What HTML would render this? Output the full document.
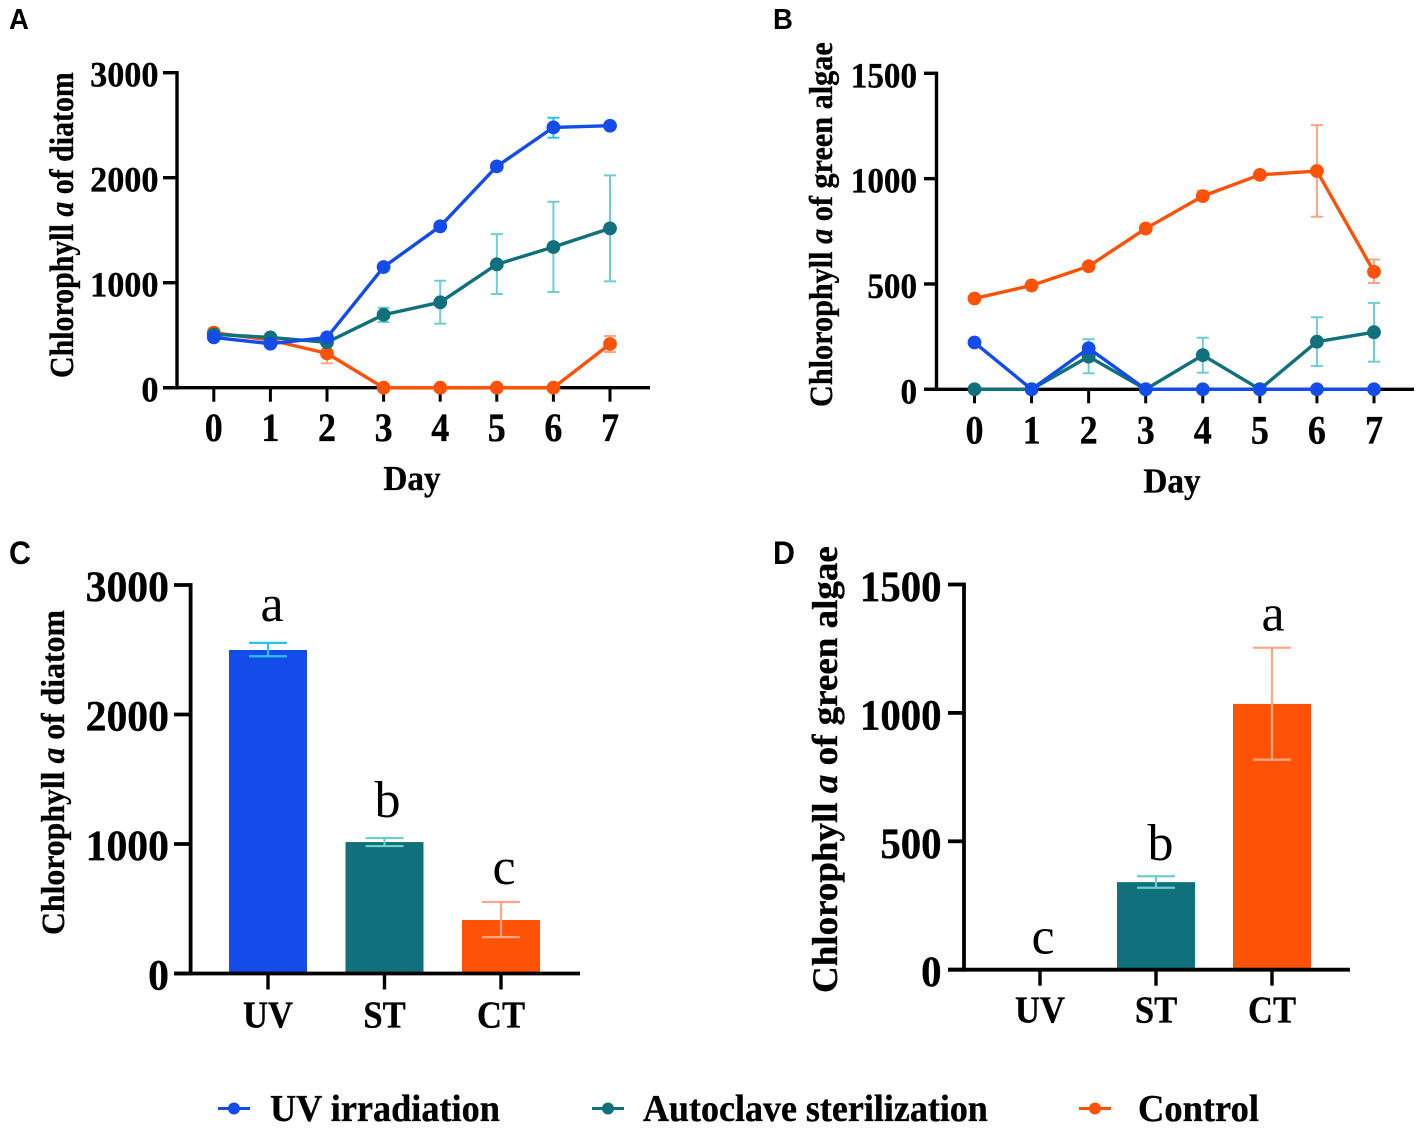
<!DOCTYPE html>
<html lang="en">
<head>
<meta charset="utf-8">
<title>Chlorophyll a of diatom and green algae</title>
<style>
html,body{margin:0;padding:0;background:#fff;}
svg{display:block;}
text{font-family:"Liberation Serif",serif;font-weight:bold;fill:#000;stroke:#000;stroke-width:.35px;}
</style>
</head>
<body>
<svg id="fig" xmlns="http://www.w3.org/2000/svg" width="1418" height="1128" viewBox="0 0 1418 1128"></svg>
<script>
// ---------- shared categories ----------
const days = [0, 1, 2, 3, 4, 5, 6, 7];
const barCategories = ['UV', 'ST', 'CT'];
const ticksDiatom = [0, 1000, 2000, 3000];
const ticksGreen = [0, 500, 1000, 1500];

// ---------- Panel A values ----------
const aUV = [479, 419, 479, 1149, 1537, 2108, 2479, 2495];
const aUVHigh = [479, 419, 479, 1149, 1537, 2108, 2571, 2495];
const aUVLow = [479, 419, 479, 1149, 1537, 2108, 2381, 2495];
const aST = [508, 479, 432, 695, 813, 1175, 1340, 1517];
const aSTHigh = [508, 479, 432, 762, 1019, 1463, 1771, 2022];
const aSTLow = [508, 479, 432, 625, 610, 892, 911, 1013];
const aCT = [524, 454, 327, 0, 0, 0, 0, 416];
const aCTHigh = [565, 454, 420, 0, 0, 0, 0, 492];
const aCTLow = [524, 454, 232, 0, 0, 0, 0, 340];

// ---------- Panel B values ----------
const bUV = [222, 0, 195, 0, 0, 0, 0, 0];
const bST = [0, 0, 155, 0, 162, 0, 226, 271];
const bSTHigh = [0, 0, 238, 0, 245, 0, 342, 410];
const bSTLow = [0, 0, 76, 0, 79, 0, 111, 131];
const bCT = [431, 493, 584, 763, 917, 1018, 1036, 558];
const bCTHigh = [431, 493, 584, 763, 942, 1018, 1254, 616];
const bCTLow = [431, 493, 584, 763, 917, 1018, 819, 505];

// ---------- Panel C values ----------
const cValues = [2498, 1015, 413];
const cHigh = [2553, 1046, 552];
const cLow = [2450, 984, 281];
const cLetters = ['a', 'b', 'c'];

// ---------- Panel D values ----------
const dValues = [0, 341, 1035];
const dHigh = [0, 364, 1254];
const dLow = [0, 319, 818];
const dLetters = ['c', 'b', 'a'];

// ---------- Legend ----------
const legendLabels = ['UV irradiation', 'Autoclave sterilization', 'Control'];

const BLUE = '#134ce8', TEAL = '#10707c', ORANGE = '#fe5307';
const EBLUE = '#2bc4f0', ETEAL = '#6dcdd0', EORANGE = '#fda586';
const svg = document.getElementById('fig');
const NS = 'http://www.w3.org/2000/svg';

function shape(parent, tag, props) {
  const el = document.createElementNS(NS, tag);
  for (const k in props) el.setAttribute(k, props[k]);
  parent.appendChild(el);
  return el;
}
function group(parent, name) {
  const g = shape(parent, 'g', {});
  
  
  return g;
}
function label(parent, name, str, x, y, size, anchor, scaleX) {
  const t = shape(parent, 'text', {x: 0, y: 0, 'font-size': size, 'text-anchor': anchor});
  t.setAttribute('transform', 'translate(' + x + ' ' + y + ') scale(' + (scaleX || 1) + ' 1)');
  t.textContent = str;
  
  
  return t;
}
function yAxisTitle(parent, name, rest, baseX, yBottom, yTop, size) {
  const t = shape(parent, 'text', {x: 0, y: 0, 'font-size': size});
  
  
  const a = document.createElementNS(NS, 'tspan');
  a.textContent = 'Chlorophyll ';
  t.appendChild(a);
  const b = document.createElementNS(NS, 'tspan');
  b.setAttribute('font-style', 'italic');
  b.textContent = 'a';
  t.appendChild(b);
  const c = document.createElementNS(NS, 'tspan');
  c.textContent = ' ' + rest;
  t.appendChild(c);
  const sx = (yBottom - yTop) / t.getComputedTextLength();
  t.setAttribute('transform', 'translate(' + baseX + ' ' + yBottom + ') rotate(-90) scale(' + sx + ' 1)');
}
function fitWidth(t, x, y, width) {
  const sx = width / t.getComputedTextLength();
  t.setAttribute('transform', 'translate(' + x + ' ' + y + ') scale(' + sx + ' 1)');
}

function drawAxes(g, o, yTicks, sy) {
  const w = o.axisW;
  shape(g, 'line', {x1: o.x0, y1: sy(o.yMax) - w / 2, x2: o.x0, y2: sy(0) + w / 2, stroke: '#000', 'stroke-width': w});
  shape(g, 'line', {x1: o.tickLeft, y1: sy(0), x2: o.xEnd, y2: sy(0), stroke: '#000', 'stroke-width': w});
  yTicks.forEach(function (v) {
    const tick = shape(g, 'line', {x1: o.tickLeft, y1: sy(v), x2: o.x0, y2: sy(v), stroke: '#000', 'stroke-width': w});
    
    label(g, 'y-tick-label', String(v), o.yLabelRight, sy(v) + o.yLabelDy, o.yLabelSize, 'end', o.yLabelScale);
  });
}

function errorBar(g, name, x, hi, lo, sy, color, cap, w) {
  if (hi === lo) return;
  const e = group(g, name);
  shape(e, 'line', {x1: x, y1: sy(hi), x2: x, y2: sy(lo), stroke: color, 'stroke-width': w});
  shape(e, 'line', {x1: x - cap, y1: sy(hi), x2: x + cap, y2: sy(hi), stroke: color, 'stroke-width': w});
  shape(e, 'line', {x1: x - cap, y1: sy(lo), x2: x + cap, y2: sy(lo), stroke: color, 'stroke-width': w});
}

function linePanel(o) {
  const g = group(svg, o.name);
  const sx = function (d) { return o.xFirst + (o.xLast - o.xFirst) * d / 7; };
  const sy = function (v) { return o.y0 + (o.yTop - o.y0) * v / o.yMax; };
  drawAxes(g, o, o.yTicks, sy);
  days.forEach(function (d) {
    const tick = shape(g, 'line', {x1: sx(d), y1: sy(0), x2: sx(d), y2: sy(0) + 14, stroke: '#000', 'stroke-width': 3});
    
    label(g, 'x-tick-label', String(d), sx(d), o.xLabelY, 40, 'middle', 0.9);
  });
  label(g, 'x-axis-title', 'Day', o.dayX, o.dayY, 35, 'middle', 0.95);
  o.series.forEach(function (s) {
    days.forEach(function (d, i) {
      errorBar(g, s.name + '-error-bar', sx(d), s.high[i], s.low[i], sy, s.err, 6, 2);
    });
  });
  o.series.forEach(function (s) {
    const sg = group(g, s.name);
    const pts = days.map(function (d, i) { return sx(d) + ',' + sy(s.vals[i]); }).join(' ');
    shape(sg, 'polyline', {points: pts, fill: 'none', stroke: s.color, 'stroke-width': 3.4, 'stroke-linejoin': 'round'});
    days.forEach(function (d, i) {
      const p = shape(sg, 'circle', {cx: sx(d), cy: sy(s.vals[i]), r: 6.9, fill: s.color});
      
      
    });
  });
}

function barPanel(o) {
  const g = group(svg, o.name);
  const sx = function (i) { return o.xFirst + o.step * i; };
  const sy = function (v) { return o.y0 + (o.yTop - o.y0) * v / o.yMax; };
  const colors = [BLUE, TEAL, ORANGE];
  const errs = [EBLUE, ETEAL, EORANGE];
  barCategories.forEach(function (c, i) {
    if (o.vals[i] > 0) {
      const b = shape(g, 'rect', {x: sx(i) - 39, y: sy(o.vals[i]), width: 78, height: sy(0) - sy(o.vals[i]), fill: colors[i]});
      
      
    }
    errorBar(g, 'error-bar-' + c.toLowerCase(), sx(i), o.high[i], o.low[i], sy, errs[i], 19, 2.2);
  });
  drawAxes(g, o, o.yTicks, sy);
  barCategories.forEach(function (c, i) {
    const tick = shape(g, 'line', {x1: sx(i), y1: sy(0), x2: sx(i), y2: sy(0) + 16, stroke: '#000', 'stroke-width': 3.4});
    
    label(g, 'x-tick-label', c, sx(i), o.xLabelY, 38, 'middle', 0.91);
    const top = Math.max(o.high[i], o.vals[i]);
    const t = label(g, 'significance-letter-' + o.letters[i], o.letters[i], sx(i) + o.letterDx[i], sy(top) + o.letterDy[i], 52, 'middle');
    t.setAttribute('style', 'font-weight:normal;stroke:none');
  });
}

// Panel letters
[['A', 9, 29, 29], ['B', 773, 29, 29], ['C', 9, 564, 32], ['D', 773, 564, 32]].forEach(function (p) {
  const t = label(svg, 'panel-label-' + p[0].toLowerCase(), p[0], p[1], p[2], p[3], 'start', 0.95);
  t.setAttribute('style', 'font-family:"Liberation Sans",sans-serif;stroke:none');
});

linePanel({
  name: 'panel-a-line-chart', x0: 177, tickLeft: 163, xEnd: 650, y0: 387.7, yTop: 72.7, yMax: 3000,
  xFirst: 213.8, xLast: 610, yTicks: ticksDiatom, yLabelRight: 158.5, yLabelDy: 14, yLabelSize: 36, yLabelScale: 0.95, axisW: 3.4,
  xLabelY: 441, dayX: 412, dayY: 490,
  series: [
    {name: 'series-control', vals: aCT, high: aCTHigh, low: aCTLow, color: ORANGE, err: EORANGE},
    {name: 'series-autoclave', vals: aST, high: aSTHigh, low: aSTLow, color: TEAL, err: ETEAL},
    {name: 'series-uv', vals: aUV, high: aUVHigh, low: aUVLow, color: BLUE, err: EBLUE}
  ]
});
yAxisTitle(svg, 'y-axis-title-a', 'of diatom', 73, 378, 72, 34);

linePanel({
  name: 'panel-b-line-chart', x0: 936.5, tickLeft: 924, xEnd: 1414, y0: 389.3, yTop: 73.3, yMax: 1500,
  xFirst: 974.5, xLast: 1374, yTicks: ticksGreen, yLabelRight: 917, yLabelDy: 14, yLabelSize: 36, yLabelScale: 0.92, axisW: 3.4,
  xLabelY: 443.5, dayX: 1172, dayY: 492.7,
  series: [
    {name: 'series-control', vals: bCT, high: bCTHigh, low: bCTLow, color: ORANGE, err: EORANGE},
    {name: 'series-autoclave', vals: bST, high: bSTHigh, low: bSTLow, color: TEAL, err: ETEAL},
    {name: 'series-uv', vals: bUV, high: bUV, low: bUV, color: BLUE, err: EBLUE}
  ]
});
yAxisTitle(svg, 'y-axis-title-b', 'of green algae', 832, 407, 42, 33);

barPanel({
  name: 'panel-c-bar-chart', x0: 190.6, tickLeft: 174, xEnd: 580, y0: 973.5, yTop: 585, yMax: 3000,
  xFirst: 268, step: 116.5, yTicks: ticksDiatom, yLabelRight: 169, yLabelDy: 16, yLabelSize: 43, yLabelScale: 0.97, axisW: 3.8,
  xLabelY: 1027.7, vals: cValues, high: cHigh, low: cLow, letters: cLetters, letterDx: [4, 3, 3], letterDy: [-22, -21, -18]
});
yAxisTitle(svg, 'y-axis-title-c', 'of diatom', 64, 935, 610, 33);

barPanel({
  name: 'panel-d-bar-chart', x0: 964, tickLeft: 948, xEnd: 1350, y0: 969.7, yTop: 584.5, yMax: 1500,
  xFirst: 1040, step: 116, yTicks: ticksGreen, yLabelRight: 941.6, yLabelDy: 16.5, yLabelSize: 43, yLabelScale: 0.95, axisW: 3.8,
  xLabelY: 1022.7, vals: dValues, high: dHigh, low: dLow, letters: dLetters, letterDx: [3, 4.5, 1], letterDy: [-16, -16, -17]
});
yAxisTitle(svg, 'y-axis-title-d', 'of green algae', 837, 993, 546, 36);

// Legend
const legend = group(svg, 'legend');
[
  {lx: 218, tx: 270, tw: 230, c: BLUE},
  {lx: 592, tx: 643, tw: 345, c: TEAL},
  {lx: 1079, tx: 1138, tw: 121, c: ORANGE}
].forEach(function (e, i) {
  const en = group(legend, 'legend-entry');
  const ln = shape(en, 'line', {x1: e.lx, y1: 1108.5, x2: e.lx + 32, y2: 1108.5, stroke: e.c, 'stroke-width': 3});
  
  const mk = shape(en, 'circle', {cx: e.lx + 16, cy: 1108.5, r: 6, fill: e.c});
  
  const t = label(en, 'legend-label', legendLabels[i], e.tx, 1121, 38, 'start');
  fitWidth(t, e.tx, 1121, e.tw);
});
</script>
</body>
</html>
